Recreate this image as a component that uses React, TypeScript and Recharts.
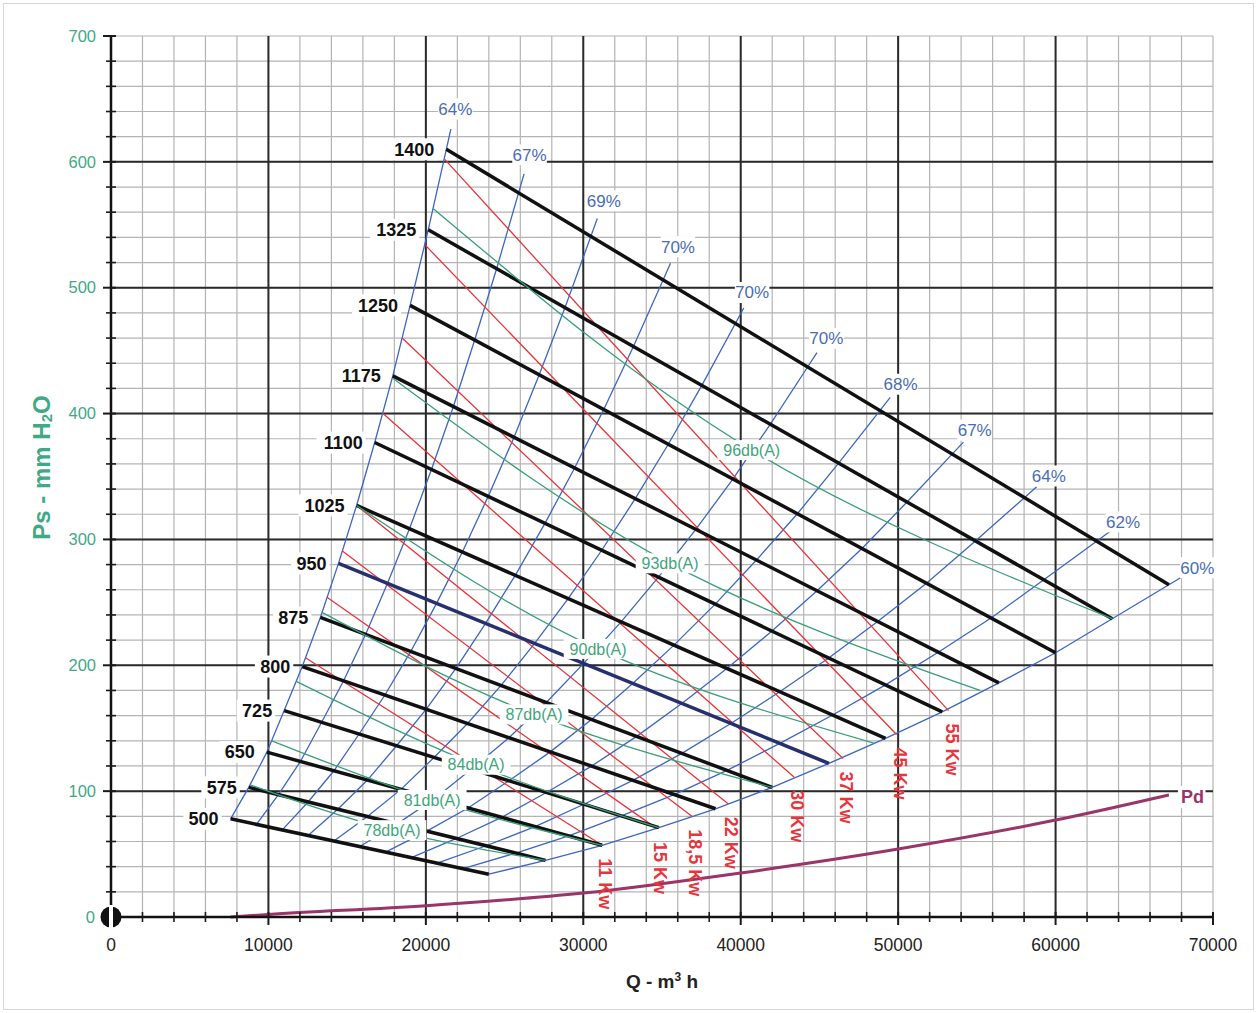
import React from 'react';
import {
  ComposedChart,
  Line,
  Scatter,
  XAxis,
  YAxis,
  CartesianGrid,
  ReferenceLine,
  Label,
} from 'recharts';

const FONT = '"Liberation Sans", Arial, Helvetica, sans-serif';
const TEAL = '#3fa985';
const BLUE = '#3c66c2';
const RED = '#e8343a';
const GREEN = '#3a9e78';
const PURPLE = '#9b3468';

// fan speed lines (rpm): start on the left edge, end on the lower edge
const speeds = [500, 575, 650, 725, 800, 875, 950, 1025, 1100, 1175, 1250, 1325, 1400];
const speedStartQ = [7600, 8750, 9900, 11000, 12150, 13300, 14450, 15600, 16750, 17900, 19000, 20150, 21300];
const speedStartP = [78, 103, 131, 164, 199, 238, 281, 327, 377, 430, 486, 546, 610];
const speedEndQ = [24000, 27600, 31200, 34800, 38400, 42000, 45600, 49200, 52800, 56400, 60000, 63600, 67200];
const speedEndP = [34, 45, 57, 71, 86, 103, 122, 142, 163, 186, 210, 237, 264];

// efficiency curves and where they cross the speed lines (0 = left edge, 1 = lower edge)
const effLabels = ['64%', '67%', '69%', '70%', '70%', '70%', '68%', '67%', '64%', '62%', '60%'];
const effPos = [0, 0.1, 0.2, 0.3, 0.4, 0.5, 0.6, 0.7, 0.8, 0.9, 1];

// absorbed power lines
const powerLabels = ['11 Kw', '15 Kw', '18,5 Kw', '22 Kw', '30 Kw', '37 Kw', '45 Kw', '55 Kw'];
const powerStartQ = [12350, 13720, 14680, 15600, 17280, 18500, 19950, 21200];
const powerStartP = [206, 254, 291, 327, 400, 460, 534, 602];
const powerEndQ = [31200, 34700, 36900, 39200, 43400, 46500, 49900, 53200];
const powerEndP = [57, 70, 80, 90, 111, 126, 145, 164];

// sound level curves: start, labelled point, end
const noiseLabels = ['78db(A)', '81db(A)', '84db(A)', '87db(A)', '90db(A)', '93db(A)', '96db(A)'];
const noiseQ = [
  [8830, 17850, 27600],
  [10210, 20400, 31200],
  [11800, 23190, 34800],
  [13400, 26870, 42000],
  [15600, 30940, 48500],
  [17900, 35510, 55200],
  [20460, 40700, 63600],
];
const noiseP = [
  [105, 69, 45],
  [140, 93, 57],
  [187, 121, 71],
  [242, 161, 103],
  [327, 213, 138],
  [428, 281, 180],
  [563, 371, 237],
];

// dynamic pressure
const pdQ = [7600, 10000, 20000, 30000, 40000, 50000, 60000, 67200];
const pdP = [0, 2, 9, 19, 35, 54, 77, 97];

const qTicks = Array.from({ length: 36 }, (_, i) => i * 2000);
const pTicks = Array.from({ length: 36 }, (_, i) => i * 20);
const qMajor = [10000, 20000, 30000, 40000, 50000, 60000];
const pMajor = [100, 200, 300, 400, 500, 600];

type Pt = { q: number; p: number };

const speedLines = speeds.map((rpm, i) => ({
  rpm,
  points: [
    { q: speedStartQ[i], p: speedStartP[i] },
    { q: speedEndQ[i], p: speedEndP[i] },
  ],
}));

const effCurves = effPos.map((t, k) => {
  const pts: Pt[] = speeds.map((_, i) => ({
    q: speedStartQ[i] + t * (speedEndQ[i] - speedStartQ[i]),
    p: speedStartP[i] + t * (speedEndP[i] - speedStartP[i]),
  }));
  const a = pts[pts.length - 2];
  const b = pts[pts.length - 1];
  // short overshoot past the top speed line, tag sits further along
  const tip = { q: b.q + 0.25 * (b.q - a.q), p: b.p + 0.25 * (b.p - a.p) };
  const tag = { q: b.q + 0.5 * (b.q - a.q), p: b.p + 0.5 * (b.p - a.p), text: effLabels[k] };
  return { points: [...pts, tip], tag };
});

const powerLines = powerLabels.map((text, i) => ({
  text,
  points: [
    { q: powerStartQ[i], p: powerStartP[i] },
    { q: powerEndQ[i], p: powerEndP[i] },
  ],
}));

const noiseCurves = noiseLabels.map((text, i) => ({
  text,
  points: noiseQ[i].map((q, j) => ({ q, p: noiseP[i][j] })),
}));

const pdCurve = pdQ.map((q, i) => ({ q, p: pdP[i] }));

const rpmTags = speeds.map((rpm, i) => ({ q: speedStartQ[i], p: speedStartP[i], text: String(rpm) }));
const effTags = effCurves.map((c) => c.tag);
const noiseTags = noiseCurves.map((c) => ({ ...c.points[1], text: c.text }));
const powerTags = powerLines.map((l) => ({ ...l.points[1], text: l.text }));
const pdTag = [{ ...pdCurve[pdCurve.length - 1], text: 'Pd' }];

const QTick = (props: any) => {
  const { x, y, payload } = props;
  const v = payload.value as number;
  const major = v % 10000 === 0;
  return (
    <g>
      <line x1={x} x2={x} y1={y - 5} y2={y + (major ? 8 : 5)} stroke="#1a1a1a" strokeWidth={major ? 2 : 1.6} />
      {major && (
        <text x={x} y={y + 34} textAnchor="middle" fontSize={17.5} fill="#222" fontFamily={FONT}>
          {v}
        </text>
      )}
    </g>
  );
};

const PTick = (props: any) => {
  const { x, y, payload } = props;
  const v = payload.value as number;
  const major = v % 100 === 0;
  if (v === 0) {
    return (
      <g>
        <circle cx={x} cy={y} r={10.5} fill="#111" />
        <rect x={x - 2} y={y - 12} width={4} height={24} fill="#fff" />
        <text x={x - 16} y={y} dy="0.35em" textAnchor="end" fontSize={16.5} fill={TEAL} fontFamily={FONT}>
          0
        </text>
      </g>
    );
  }
  return (
    <g>
      <line x1={x - (major ? 8 : 5)} x2={x + 5} y1={y} y2={y} stroke="#1a1a1a" strokeWidth={major ? 2 : 1.6} />
      {major && (
        <text x={x - 15} y={y} dy="0.35em" textAnchor="end" fontSize={16.5} fill={TEAL} fontFamily={FONT}>
          {v}
        </text>
      )}
    </g>
  );
};

const QTitle = (props: any) => {
  const { x, y, width } = props.viewBox;
  return (
    <text x={x + width / 2} y={y + 71} textAnchor="middle" fontSize={19} fontWeight="bold" fill="#222" fontFamily={FONT}>
      Q - m<tspan dy={-7} fontSize={12}>3</tspan>
      <tspan dy={7}> h</tspan>
    </text>
  );
};

const PTitle = (props: any) => {
  const { x, y, height } = props.viewBox;
  const cx = x + 2;
  const cy = y + height / 2 - 9;
  return (
    <text
      transform={`translate(${cx},${cy}) rotate(-90)`}
      textAnchor="middle"
      dominantBaseline="central"
      fontSize={24}
      fontWeight="bold"
      fill={TEAL}
      fontFamily={FONT}
    >
      Ps - mm H<tspan dy={5} fontSize={15}>2</tspan>
      <tspan dy={-5}>O</tspan>
    </text>
  );
};

// text with a white backing box
const boxed = (
  cx: number,
  cy: number,
  text: string,
  size: number,
  color: string,
  anchor: 'start' | 'middle' | 'end',
  bold = false,
) => {
  const w = text.length * size * (bold ? 0.6 : 0.56);
  const left = anchor === 'middle' ? cx - w / 2 : anchor === 'end' ? cx - w : cx;
  return (
    <g>
      <rect x={left - 3} y={cy - size / 2 - 2} width={w + 6} height={size + 4} fill="#fff" />
      <text
        x={cx}
        y={cy}
        dy="0.35em"
        textAnchor={anchor}
        fontSize={size}
        fontWeight={bold ? 'bold' : 'normal'}
        fill={color}
        fontFamily={FONT}
      >
        {text}
      </text>
    </g>
  );
};

const RpmTag = (props: any) => boxed(props.cx - 12, props.cy, props.payload.text, 18, '#111', 'end', true);
const EffTag = (props: any) => boxed(props.cx, props.cy, props.payload.text, 17, '#4a6cb8', 'middle');
const NoiseTag = (props: any) => boxed(props.cx, props.cy, props.payload.text, 16, '#3fa57c', 'middle');
const PdTag = (props: any) => boxed(props.cx + 12, props.cy + 2, props.payload.text, 18, PURPLE, 'start', true);
const PowerTag = (props: any) => (
  <text
    transform={`translate(${props.cx + 3},${props.cy + 13}) rotate(90)`}
    textAnchor="start"
    dominantBaseline="central"
    fontSize={18}
    fontWeight="bold"
    fill={RED}
    fontFamily={FONT}
  >
    {props.payload.text}
  </text>
);

export default function App() {
  return (
    <div style={{ position: 'absolute', left: 0, top: 0, width: 1257, height: 1013, background: '#fff' }}>
      <div style={{ position: 'absolute', left: 3, top: 3, right: 3, bottom: 3, border: '1px solid #d6d6d6' }} />
      <ComposedChart width={1257} height={1013} margin={{ top: 36, right: 44, bottom: 16, left: 39 }}>
        <CartesianGrid stroke="#b4b4b4" strokeWidth={1.2} />
        {qMajor.map((v) => (
          <ReferenceLine key={`qg-${v}`} x={v} stroke="#2a2a2a" strokeWidth={2} zIndex={-50} />
        ))}
        {pMajor.map((v) => (
          <ReferenceLine key={`pg-${v}`} y={v} stroke="#2a2a2a" strokeWidth={2} zIndex={-50} />
        ))}

        <XAxis
          type="number"
          dataKey="q"
          domain={[0, 70000]}
          ticks={qTicks}
          interval={0}
          height={80}
          tickSize={0}
          tickMargin={0}
          tickLine={false}
          axisLine={{ stroke: '#111', strokeWidth: 2.5 }}
          tick={QTick}
        >
          <Label content={QTitle} />
        </XAxis>
        <YAxis
          type="number"
          domain={[0, 700]}
          ticks={pTicks}
          interval={0}
          width={72}
          tickSize={0}
          tickMargin={0}
          tickLine={false}
          axisLine={{ stroke: '#111', strokeWidth: 2.5 }}
          tick={PTick}
        >
          <Label content={PTitle} />
        </YAxis>

        {effCurves.map((c, i) => (
          <Line
            key={`eff-${i}`}
            data={c.points}
            dataKey="p"
            type="linear"
            stroke={BLUE}
            strokeWidth={1.3}
            dot={false}
            activeDot={false}
            isAnimationActive={false}
          />
        ))}
        {powerLines.map((l) => (
          <Line
            key={l.text}
            data={l.points}
            dataKey="p"
            type="linear"
            stroke={RED}
            strokeWidth={1.3}
            dot={false}
            activeDot={false}
            isAnimationActive={false}
          />
        ))}
        {speedLines.map((s) => (
          <Line
            key={s.rpm}
            data={s.points}
            dataKey="p"
            type="linear"
            stroke={s.rpm === 950 ? '#27306f' : '#111'}
            strokeWidth={3.5}
            dot={false}
            activeDot={false}
            isAnimationActive={false}
          />
        ))}
        {noiseCurves.map((c) => (
          <Line
            key={c.text}
            data={c.points}
            dataKey="p"
            type="natural"
            stroke={GREEN}
            strokeWidth={1.3}
            dot={false}
            activeDot={false}
            isAnimationActive={false}
          />
        ))}
        <Line
          data={pdCurve}
          dataKey="p"
          type="monotone"
          stroke={PURPLE}
          strokeWidth={3}
          dot={false}
          activeDot={false}
          isAnimationActive={false}
        />

        <Scatter data={powerTags} dataKey="p" shape={PowerTag} isAnimationActive={false} />
        <Scatter data={noiseTags} dataKey="p" shape={NoiseTag} isAnimationActive={false} />
        <Scatter data={effTags} dataKey="p" shape={EffTag} isAnimationActive={false} />
        <Scatter data={rpmTags} dataKey="p" shape={RpmTag} isAnimationActive={false} />
        <Scatter data={pdTag} dataKey="p" shape={PdTag} isAnimationActive={false} />
      </ComposedChart>
    </div>
  );
}
